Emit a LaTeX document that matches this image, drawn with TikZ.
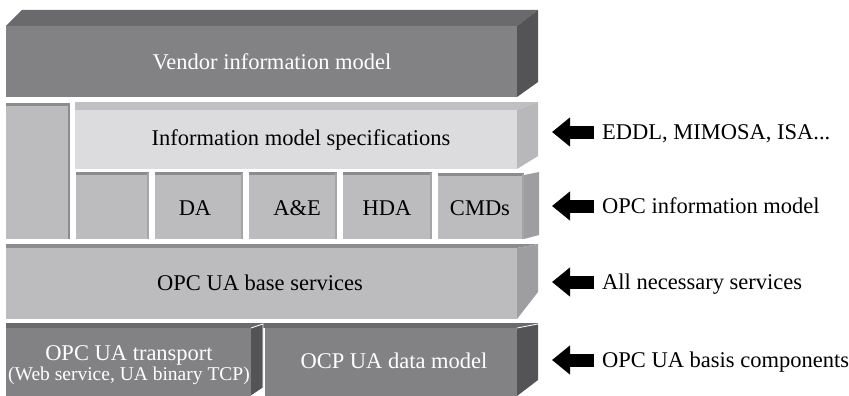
\documentclass[tikz,border=0pt]{standalone}
\usepackage{fontspec}
\setmainfont{Liberation Serif}
\usetikzlibrary{arrows.meta}
\definecolor{dkfront}{RGB}{130,130,133}
\definecolor{dktop}{RGB}{106,106,109}
\definecolor{dkside}{RGB}{84,84,87}
\definecolor{ltfront}{RGB}{220,220,222}
\definecolor{lttop}{RGB}{192,192,194}
\definecolor{ltside}{RGB}{184,184,186}
\definecolor{mdfront}{RGB}{188,188,190}
\definecolor{mdtop}{RGB}{140,140,143}
\definecolor{mdside}{RGB}{158,158,161}
\definecolor{mdedge}{RGB}{165,165,168}
\newcommand\tilebox[4]{%
  \fill[mdfront] (#1,#2) rectangle (#3,#4);
  \fill[mdtop] (#1,#2) rectangle (#3,#2+2.5);
  \fill[mdedge] (#3-2.5,#2+1) rectangle (#3,#4);
}
\tikzset{
  lbl/.style={inner sep=0pt, text height=14.8pt, text depth=0pt, font=\fontsize{22.5}{26}\selectfont},
  smalllbl/.style={inner sep=0pt, text height=13pt, text depth=0pt, font=\fontsize{19.5}{23}\selectfont},
  rlbl/.style={lbl, anchor=west},
  bigarrow/.style={draw=black, line width=13pt, line cap=butt, -{Triangle[length=18pt,width=28pt]}}
}
\begin{document}
\begin{tikzpicture}[x=1pt,y=-1pt]
\useasboundingbox (0,0) rectangle (849,396);
% Vendor information model
\fill[dktop] (6,26) -- (22,10) -- (538,10) -- (517,26) -- cycle;
\fill[dkside] (517,26) -- (538,10) -- (538,82) -- (517,97) -- cycle;
\fill[dkfront] (6,26) rectangle (517,97);
\node[lbl, text=white] (vendor) at (272,62) {Vendor information model};
% left tall box
\fill[mdfront] (6,103) rectangle (70,239);
\fill[mdtop] (6,103) rectangle (70,105.5);
\fill[mdtop] (67.5,104) rectangle (70,239);
% Information model specifications
\fill[lttop] (75,110) -- (75,102) -- (538,102) -- (517,110) -- cycle;
\fill[ltside] (517,110) -- (538,102) -- (538,156) -- (517,169) -- cycle;
\fill[ltfront] (75,110) rectangle (517,169);
\node[lbl] (spec) at (301,138) {Information model specifications};
% small boxes
\tilebox{76}{172}{149}{239}
\tilebox{155}{172}{243}{239}
\tilebox{249}{172}{337}{239}
\tilebox{343}{172}{432}{239}
\fill[mdside] (524,175) -- (539,172) -- (539,235) -- (524,239) -- cycle;
\tilebox{438}{173}{524}{239}
\node[lbl] (da) at (195,208) {DA};
\node[lbl] (ae) at (297,208) {A\&E};
\node[lbl] (hda) at (387,208) {HDA};
\node[lbl] (cmds) at (480,208) {CMDs};
% OPC UA base services
\fill[mdtop] (6,248) -- (6,244) -- (538,244) -- (517,248) -- cycle;
\fill[mdside] (517,248) -- (538,244) -- (538,292) -- (517,319) -- cycle;
\fill[mdfront] (6,248) rectangle (517,319);
\node[lbl] (base) at (260,283) {OPC UA base services};
% bottom row
\fill[dktop] (6,323) rectangle (538,328);
\fill[dkfront] (6,328) rectangle (251,396);
\filldraw[fill=dkside, draw=white, line width=0.8pt] (251,328) -- (263,324) -- (263,388) -- (251,396);
\fill[dkside] (517,328) -- (538,324) -- (538,380) -- (517,396) -- cycle;
\fill[dkfront] (265,328) rectangle (517,396);
\draw[white, line width=0.8pt] (517,328) -- (538,324);
\node[lbl, text=white] (transport) at (129,353) {OPC UA transport};
\node[smalllbl, text=white] (transport2) at (129,374) {(Web service, UA binary TCP)};
\node[lbl, text=white] (datamodel) at (394,361) {OCP UA data model};
% right labels and arrows
\node[rlbl] (r1) at (602,132) {EDDL, MIMOSA, ISA...};
\node[rlbl] (r2) at (602,206) {OPC information model};
\node[rlbl] (r3) at (602,282) {All necessary services};
\node[rlbl] (r4) at (602,360) {OPC UA basis components};
\draw[bigarrow] ([xshift=-8pt]r1.west) -- ++(-42,0);
\draw[bigarrow] ([xshift=-8pt]r2.west) -- ++(-42,0);
\draw[bigarrow] ([xshift=-8pt]r3.west) -- ++(-42,0);
\draw[bigarrow] ([xshift=-8pt]r4.west) -- ++(-42,0);
\end{tikzpicture}
\end{document}
